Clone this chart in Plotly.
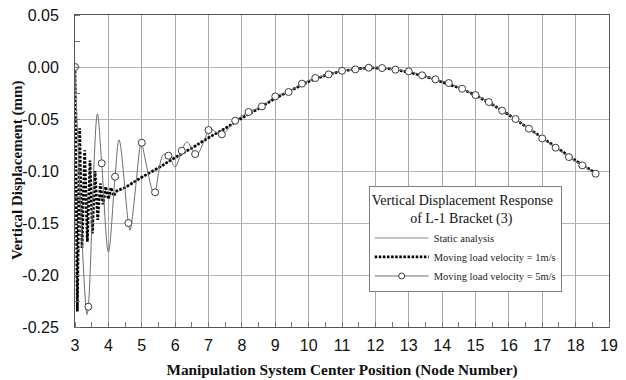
import plotly.graph_objects as go

# ---------------- data ----------------
static_x = [3.0, 3.5, 4.0, 4.5, 5.0, 5.5, 6.0, 6.5, 7.0, 7.5, 8.0, 8.5, 9.0, 9.5, 10.0,
            10.5, 11.0, 11.5, 12.0, 12.5, 13.0, 13.5, 14.0, 14.5, 15.0, 15.5, 16.0,
            16.5, 17.0, 17.5, 18.0, 18.5, 18.7]
static_y = [-0.128, -0.127, -0.124, -0.116, -0.106, -0.097, -0.087, -0.078, -0.068,
            -0.059, -0.049, -0.040, -0.030, -0.022, -0.014, -0.008, -0.004, -0.0015,
            -0.0008, -0.002, -0.005, -0.009, -0.0145, -0.020, -0.027, -0.036, -0.046,
            -0.057, -0.068, -0.079, -0.090, -0.100, -0.104]

v1_x = [3.00, 3.07, 3.14, 3.21, 3.29, 3.37, 3.45, 3.52, 3.60, 3.68, 3.76, 3.84, 3.92,
        4.00, 4.08, 4.16, 4.25, 4.5, 5.0, 5.5, 6.0, 6.5, 7.0, 7.5, 8.0, 8.5, 9.0, 9.5,
        10.0, 10.5, 11.0, 11.5, 12.0, 12.5, 13.0, 13.5, 14.0, 14.5, 15.0, 15.5, 16.0,
        16.5, 17.0, 17.5, 18.0, 18.6]
v1_y = [0.000, -0.235, -0.059, -0.174, -0.080, -0.168, -0.090, -0.160, -0.100, -0.147,
        -0.112, -0.132, -0.115, -0.127, -0.116, -0.124, -0.119, -0.116, -0.106, -0.097,
        -0.087, -0.078, -0.068, -0.059, -0.049, -0.040, -0.030, -0.022, -0.014, -0.008,
        -0.004, -0.0015, -0.0008, -0.002, -0.005, -0.009, -0.0145, -0.020, -0.027,
        -0.036, -0.046, -0.057, -0.068, -0.079, -0.090, -0.102]

v5_x = [3.0, 3.36, 3.4, 3.67, 3.8, 4.0, 4.2, 4.32, 4.6, 4.65, 4.98, 5.0, 5.36, 5.4,
        5.65, 5.8, 6.0, 6.2, 6.35, 6.6, 6.65, 7.0, 7.03, 7.4, 7.8, 8.2, 8.6, 9.0, 9.4,
        9.8, 10.2, 10.6, 11.0, 11.4, 11.8, 12.2, 12.6, 13.0, 13.4, 13.8, 14.2, 14.6,
        15.0, 15.4, 15.8, 16.2, 16.6, 17.0, 17.4, 17.8, 18.2, 18.6]
v5_y = [0.000, -0.238, -0.2305, -0.045, -0.0926, -0.178, -0.1055, -0.070, -0.150,
        -0.157, -0.071, -0.0728, -0.122, -0.1205, -0.084, -0.0853, -0.096, -0.0805,
        -0.072, -0.0837, -0.085, -0.0606, -0.059, -0.0647, -0.0516, -0.0433, -0.0379,
        -0.0283, -0.0240, -0.0160, -0.0106, -0.0071, -0.0036, -0.0023, -0.0007, -0.0010,
        -0.0026, -0.0042, -0.0080, -0.0119, -0.0154, -0.0209, -0.0270, -0.0337, -0.0420,
        -0.0500, -0.0593, -0.0687, -0.0776, -0.0866, -0.0946, -0.1026]

x_ticks = list(range(3, 20))
y_tickvals = [0.05, 0.0, -0.05, -0.10, -0.15, -0.20, -0.25]
y_ticktext = ["0.05", "0.00", "-0.05", "-0.10", "-0.15", "-0.20", "-0.25"]

# marker points for 5 m/s: every 0.4 node from 3
mk_x, mk_y = [], []
for xx, yy in zip(v5_x, v5_y):
    k = (xx - 3.0) / 0.4
    if abs(k - round(k)) < 1e-6:
        mk_x.append(xx)
        mk_y.append(yy)

SERIF = "Liberation Serif, Times New Roman, serif"
SANS = "Liberation Sans, Arial, sans-serif"
NB = "\u00a0"

fig = go.Figure()
fig.add_trace(go.Scatter(x=static_x, y=static_y, mode="lines", name="Static analysis",
                         line=dict(color="#8c8c8c", width=1, shape="spline")))
fig.add_trace(go.Scatter(x=v1_x, y=v1_y, mode="lines", name="Moving load velocity = 1m/s",
                         line=dict(color="black", width=2.7, dash="2.5px,1.6px")))
fig.add_trace(go.Scatter(x=v5_x, y=v5_y, mode="lines", showlegend=False,
                         line=dict(color="#6e6e6e", width=1, shape="spline")))
fig.add_trace(go.Scatter(x=mk_x, y=mk_y, mode="markers", showlegend=False,
                         marker=dict(symbol="circle", size=7, color="white",
                                     line=dict(color="#3c3c3c", width=1))))
fig.add_trace(go.Scatter(x=[None], y=[None], mode="lines+markers",
                         name="Moving load velocity = 5m/s",
                         line=dict(color="#6e6e6e", width=1),
                         marker=dict(symbol="circle", size=6, color="white",
                                     line=dict(color="#3c3c3c", width=1))))

fig.update_layout(
    width=626, height=380,
    margin=dict(l=75, r=17, t=15, b=53),
    paper_bgcolor="white", plot_bgcolor="white",
    showlegend=True,
    legend=dict(
        x=0.55, y=0.112, xanchor="left", yanchor="bottom",
        bgcolor="white", bordercolor="#808080", borderwidth=1,
        font=dict(family=SERIF, size=10.5, color="#222"),
        title=dict(text="Vertical Displacement Response<br>" + NB * 11 + "of L-1 Bracket (3)",
                   side="top",
                   font=dict(family=SERIF, size=14, color="#111")),
        tracegroupgap=0, itemwidth=54,
    ),
    xaxis=dict(
        range=[3, 19], tickvals=x_ticks, ticktext=[str(v) for v in x_ticks],
        automargin=False,
        showgrid=True, gridcolor="#a8a8a8", gridwidth=1,
        showline=True, linecolor="#555", linewidth=1, mirror=True,
        ticks="", ticklabelstandoff=4, zeroline=False,
        tickfont=dict(family=SANS, size=16, color="#111"),
        minor=dict(dtick=0.5, tick0=3, ticks="inside", ticklen=5,
                   tickcolor="#777", showgrid=False),
        title=dict(text="<b>Manipulation System Center Position (Node Number)</b>",
                   font=dict(family=SERIF, size=15.3, color="#111"), standoff=11),
    ),
    yaxis=dict(
        range=[-0.25, 0.05], tickvals=y_tickvals, ticktext=y_ticktext,
        automargin=False,
        showgrid=True, gridcolor="#b4b4b4", gridwidth=1,
        showline=True, linecolor="#555", linewidth=1, mirror=True,
        ticks="", ticklabelstandoff=12, zeroline=False,
        tickfont=dict(family=SANS, size=16, color="#111"),
        minor=dict(dtick=0.025, tick0=0, ticks="inside", ticklen=5,
                   tickcolor="#777", showgrid=False),
    ),
    annotations=[dict(
        text="<b>Vertical Displacement (mm)</b>", textangle=-90,
        xref="paper", yref="paper", x=-0.1086, y=0.5,
        xanchor="center", yanchor="middle", showarrow=False,
        font=dict(family=SERIF, size=15, color="#111"),
    )],
)

fig.write_html("out.html")
